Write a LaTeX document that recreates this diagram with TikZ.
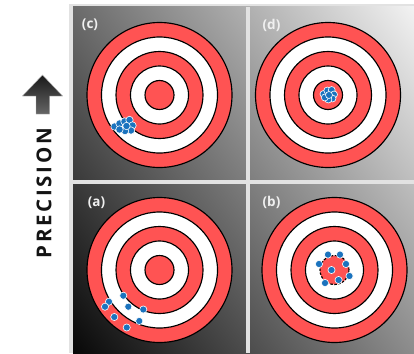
\documentclass[tikz,border=0pt]{standalone}
\usepackage{fontspec}
\usetikzlibrary{shadings}
\newfontfamily\labfont{Open Sans}
\newfontfamily\precfont[LetterSpace=13]{Open Sans}
\definecolor{ringred}{HTML}{FF5353}
\definecolor{dotblue}{HTML}{1B73BE}
\definecolor{framegray}{HTML}{E2E2E2}
\tikzset{
  ring/.style={draw=black, line width=1.15pt},
  shot/.style={fill=dotblue, draw=white, line width=0.6pt},
  panellab/.style={text=white!94!black, font=\labfont\bfseries\fontsize{13.5}{13.5}\selectfont, inner sep=0pt},
  preclab/.style={rotate=90, text=black!92, font=\precfont\bfseries\fontsize{20.5}{20.5}\selectfont, inner sep=0pt},
}
\newcommand\mytarget[2]{%
  \foreach \r/\c in {72.5/ringred, 58/white, 43.5/ringred, 29/white}{
    \filldraw[ring, fill=\c] (#1,#2) circle[radius=\r pt];
  }}
\begin{document}
\begin{tikzpicture}[x=1pt, y=-1pt]
\useasboundingbox (0,0) rectangle (414,353);
\fill[white] (0,0) rectangle (414,353);
% frame and panels
\fill[framegray] (69,4) rectangle (414,353);
\shade[upper left=black!58, upper right=black!5, lower left=black!97, lower right=black!45] (73,7) rectangle (414,353);
\fill[framegray] (246,7) rectangle (249.6,353);
\fill[framegray] (73,180.2) rectangle (414,183.8);
% targets
\mytarget{159.5}{95}
\filldraw[ring, fill=ringred] (159.5,95) circle[radius=14.5pt];
\mytarget{328}{95}
\filldraw[ring, fill=ringred] (328,95) circle[radius=14.5pt];
\mytarget{159.5}{270}
\filldraw[ring, fill=ringred] (159.5,270) circle[radius=14.5pt];
\mytarget{334.5}{270}
\filldraw[ring, fill=ringred, dash pattern=on 2.5pt off 1.5pt] (334.5,270) circle[radius=14.5pt];
% shots (c)
\foreach \p in {(114.5,126.5),(119.5,123.5),(124.5,121.5),(129.5,120),(132.5,125.5),(131,130.5),(125,131),(119.5,129.5),(126.5,126)}
  \filldraw[shot] \p circle[radius=3.7pt];
% shots (d)
\foreach \p in {(323.5,94),(327.3,90.5),(331.7,90),(334,94.5),(332.5,98.5),(328.3,99.5),(324.8,97.5),(329,95)}
  \filldraw[shot] \p circle[radius=3.5pt];
% shots (a)
\foreach \p in {(123.3,295.7),(109,301.7),(105,306.7),(128.3,306.7),(143.3,309.5),(114.3,317),(139.3,321),(126.7,327.5)}
  \filldraw[shot] \p circle[radius=3.6pt];
% shots (b)
\foreach \p in {(328,254.6),(340,254.6),(319,264),(346,264),(331.5,270),(349.5,276),(325,283),(338.6,280)}
  \filldraw[shot] \p circle[radius=3.6pt];
% labels
\node[panellab] (lc) at (90,25) {(c)};
\node[panellab] (ld) at (271.5,25) {(d)};
\node[panellab] (la) at (96.5,202.5) {(a)};
\node[panellab] (lb) at (271.5,202.5) {(b)};
% precision arrow and text
\shade[top color=black!90, bottom color=black!60, draw=black!30, line width=0.4pt]
  (42.5,75) -- (62.5,96) -- (49.5,96) -- (49.5,114) -- (36,114) -- (36,96) -- (22.5,96) -- cycle;
\node[preclab] (prec) at (44,193) {PRECISION};
\end{tikzpicture}
\end{document}
